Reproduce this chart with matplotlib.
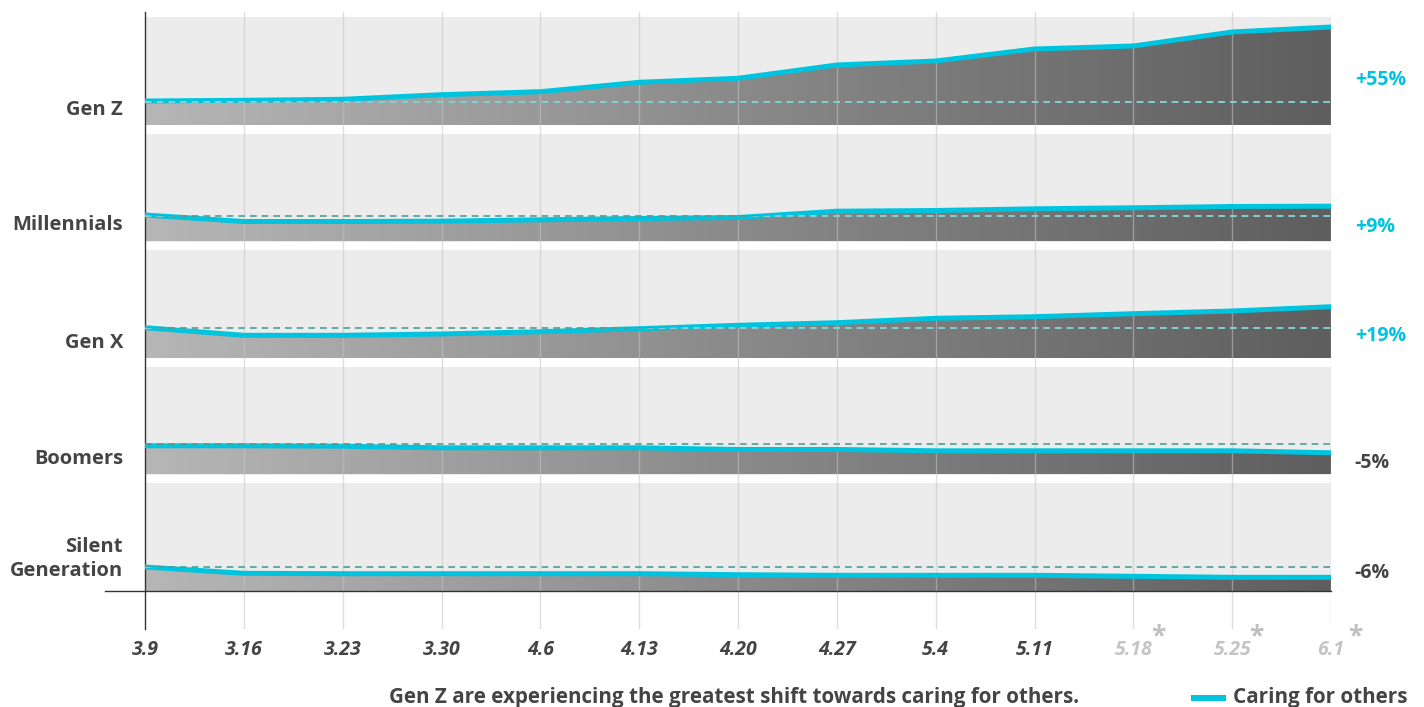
import matplotlib
matplotlib.use('Agg')
import matplotlib.pyplot as plt
import numpy as np
from matplotlib.colors import LinearSegmentedColormap
from matplotlib.patches import Rectangle

# ---------------- data ----------------
dates = ['3.9', '3.16', '3.23', '3.30', '4.6', '4.13', '4.20', '4.27',
         '5.4', '5.11', '5.18', '5.25', '6.1']
projected = ['5.18', '5.25', '6.1']
generations = ['Gen Z', 'Millennials', 'Gen X', 'Boomers', 'Silent\nGeneration']
# level of "Caring for others" within each band (band units, 0 = band floor)
gen_z = [24, 24.7, 25.7, 30.3, 33.3, 42.7, 46.7, 60, 64, 76, 79, 93, 98]
millennials = [26.5, 20, 20, 20.3, 21.7, 23, 24, 30.3, 31, 32.7, 33.7, 35, 35.3]
gen_x = [30.3, 22.7, 22.7, 24, 26.3, 29.3, 32.7, 35.3, 39.7, 41.3, 44.3, 47, 51.3]
boomers = [28.7, 28.7, 28.3, 26.7, 26.7, 26.7, 25, 25, 23.7, 23.7, 23.7, 23.7, 21.7]
silent = [24, 17.7, 17.3, 17.3, 17.3, 17.3, 16.3, 15.7, 15.7, 15.7, 14.7, 13.7, 13.7]
baselines = [23, 26, 30.5, 31, 24.3]
changes = ['+55%', '+9%', '+19%', '-5%', '-6%']
caption = 'Gen Z are experiencing the greatest shift towards caring for others.'
legend_label = 'Caring for others'

# ---------------- style ----------------
plt.rcParams['font.family'] = ['Open Sans', 'DejaVu Sans']
CYAN = '#00c4de'
TXT = '#444444'
W, H = 1424, 707

fig = plt.figure(figsize=(W / 100, H / 100), dpi=100)
ax = fig.add_axes([145 / W, 78 / H, (1331 - 145) / W, 617 / H])
x = np.arange(len(dates))
xmax = len(dates) - 1

BAND_H = 108
PITCH = 116.5
BOTTOM0 = 38
label_off = [45, 14.5, 22, 11.5, 18]
name_off = [15, 16, 15, 16, 32]

series = [gen_z, millennials, gen_x, boomers, silent]
n = len(series)
cmap = LinearSegmentedColormap.from_list('g', ['#b6b6b6', '#5e5e5e'])
grad = np.linspace(0, 1, 256).reshape(1, -1)

for i, (vals, base, name, chg) in enumerate(zip(series, baselines, generations, changes)):
    b = BOTTOM0 + PITCH * (n - 1 - i)
    ax.add_patch(Rectangle((0, b), xmax, BAND_H, facecolor='#ececec',
                           edgecolor='none', zorder=0))
    y = b + np.array(vals)
    poly = ax.fill_between(x, b, y, facecolor='none', edgecolor='none', zorder=1)
    path = poly.get_paths()[0]
    im = ax.imshow(grad, extent=[0, xmax, b, b + BAND_H], aspect='auto',
                   cmap=cmap, zorder=1, interpolation='bilinear')
    im.set_clip_path(path, ax.transData)
    ax.plot(x, y, color=CYAN, lw=3.6, solid_capstyle='butt', zorder=4)
    ax.plot([0, xmax], [b + base] * 2, color='#4a9e98', lw=1.2,
            ls=(0, (4, 3)), zorder=5)
    d2, = ax.plot([0, xmax], [b + base] * 2, color='#8ad9df', lw=1.2,
                  ls=(0, (4, 3)), zorder=6)
    d2.set_clip_path(path, ax.transData)
    ax.text(-0.223, b + name_off[i], name, ha='right', va='center', fontsize=14.5,
            weight='bold', color=TXT, clip_on=False, linespacing=1.25)
    ax.text(12.24, b + label_off[i], chg, ha='left', va='center', fontsize=14,
            weight='bold', color=CYAN if chg.startswith('+') else TXT,
            clip_on=False)

for xi in x[1:]:
    ax.axvline(xi, color='#c4c4c4', alpha=0.55, lw=1, zorder=2)

ax.plot([-0.405, xmax], [BOTTOM0, BOTTOM0], color='#333333', lw=1,
        clip_on=False, zorder=7)

ax.set_xlim(0, xmax)
ax.set_ylim(0, 617)
for s in ['top', 'right', 'bottom']:
    ax.spines[s].set_visible(False)
ax.spines['left'].set_color('#333333')
ax.spines['left'].set_linewidth(1)
ax.set_yticks([])
ax.set_xticks(x, dates)
ax.tick_params(axis='x', length=0, pad=8, labelsize=14, labelcolor=TXT)
for lbl in ax.get_xticklabels():
    lbl.set_fontstyle('italic')
    lbl.set_fontweight('bold')
    if lbl.get_text() in projected:
        lbl.set_color('#c4c4c4')
for i, d in enumerate(dates):
    if d in projected:
        ax.text(i + 0.25, 6, '*', ha='center', va='top', fontsize=19,
                weight='bold', color='#c0c0c0', clip_on=False)

fig.text(734 / W, 4 / H, caption, ha='center', va='baseline', fontsize=14.9,
         weight='bold', color=TXT)
fig.patches.append(Rectangle((1191 / W, 6 / H), 35 / W, 6 / H,
                             transform=fig.transFigure, facecolor=CYAN,
                             edgecolor='none'))
fig.text(1233 / W, 4 / H, legend_label, ha='left', va='baseline', fontsize=14.9,
         weight='bold', color=TXT)

fig.savefig('out.png', dpi=100)
